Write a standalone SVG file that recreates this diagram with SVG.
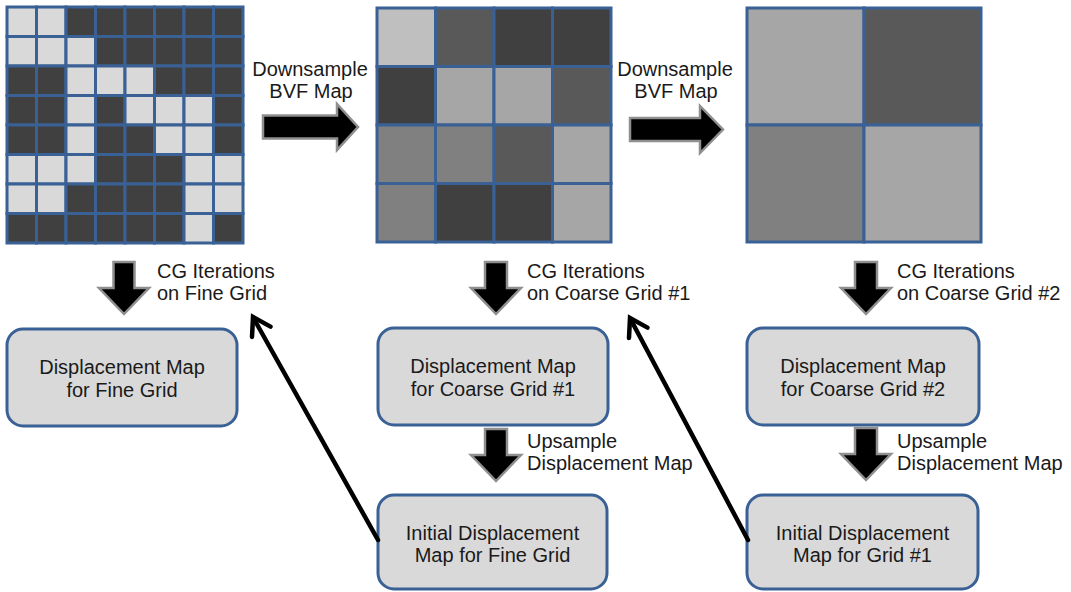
<svg xmlns="http://www.w3.org/2000/svg" width="1071" height="592" viewBox="0 0 1071 592">
<style>
.L{fill:#d9d9d9}.D{fill:#404040}
.g rect{stroke:#3a6195;stroke-width:3}
.c1{fill:#bfbfbf}.c2{fill:#a6a6a6}.c3{fill:#808080}.c4{fill:#595959}.c5{fill:#404040}
.box{fill:#d9d9d9;stroke:#3a6195;stroke-width:3}
.t{font-family:"Liberation Sans",Arial,sans-serif;font-size:20px;fill:#1a1a1a}
.m{text-anchor:middle}
.bar{fill:#000;stroke:#8f8f8f;stroke-width:2.5;stroke-linejoin:miter}
.ln{fill:none;stroke:#000;stroke-width:4.5;stroke-linecap:round;stroke-linejoin:miter}
</style>
<rect width="1071" height="592" fill="#fff"/>
<g id="fine-grid" class="g">
<rect x="7" y="7" width="29.5" height="29.5" class="L"/><rect x="36.5" y="7" width="29.5" height="29.5" class="L"/><rect x="66" y="7" width="29.5" height="29.5" class="D"/><rect x="95.5" y="7" width="29.5" height="29.5" class="D"/><rect x="125" y="7" width="29.5" height="29.5" class="D"/><rect x="154.5" y="7" width="29.5" height="29.5" class="D"/><rect x="184" y="7" width="29.5" height="29.5" class="D"/><rect x="213.5" y="7" width="29.5" height="29.5" class="D"/>
<rect x="7" y="36.5" width="29.5" height="29.5" class="L"/><rect x="36.5" y="36.5" width="29.5" height="29.5" class="L"/><rect x="66" y="36.5" width="29.5" height="29.5" class="L"/><rect x="95.5" y="36.5" width="29.5" height="29.5" class="D"/><rect x="125" y="36.5" width="29.5" height="29.5" class="D"/><rect x="154.5" y="36.5" width="29.5" height="29.5" class="D"/><rect x="184" y="36.5" width="29.5" height="29.5" class="D"/><rect x="213.5" y="36.5" width="29.5" height="29.5" class="D"/>
<rect x="7" y="66" width="29.5" height="29.5" class="D"/><rect x="36.5" y="66" width="29.5" height="29.5" class="D"/><rect x="66" y="66" width="29.5" height="29.5" class="L"/><rect x="95.5" y="66" width="29.5" height="29.5" class="L"/><rect x="125" y="66" width="29.5" height="29.5" class="L"/><rect x="154.5" y="66" width="29.5" height="29.5" class="D"/><rect x="184" y="66" width="29.5" height="29.5" class="D"/><rect x="213.5" y="66" width="29.5" height="29.5" class="D"/>
<rect x="7" y="95.5" width="29.5" height="29.5" class="D"/><rect x="36.5" y="95.5" width="29.5" height="29.5" class="D"/><rect x="66" y="95.5" width="29.5" height="29.5" class="L"/><rect x="95.5" y="95.5" width="29.5" height="29.5" class="D"/><rect x="125" y="95.5" width="29.5" height="29.5" class="L"/><rect x="154.5" y="95.5" width="29.5" height="29.5" class="L"/><rect x="184" y="95.5" width="29.5" height="29.5" class="L"/><rect x="213.5" y="95.5" width="29.5" height="29.5" class="D"/>
<rect x="7" y="125" width="29.5" height="29.5" class="D"/><rect x="36.5" y="125" width="29.5" height="29.5" class="D"/><rect x="66" y="125" width="29.5" height="29.5" class="L"/><rect x="95.5" y="125" width="29.5" height="29.5" class="D"/><rect x="125" y="125" width="29.5" height="29.5" class="D"/><rect x="154.5" y="125" width="29.5" height="29.5" class="L"/><rect x="184" y="125" width="29.5" height="29.5" class="L"/><rect x="213.5" y="125" width="29.5" height="29.5" class="D"/>
<rect x="7" y="154.5" width="29.5" height="29.5" class="L"/><rect x="36.5" y="154.5" width="29.5" height="29.5" class="L"/><rect x="66" y="154.5" width="29.5" height="29.5" class="L"/><rect x="95.5" y="154.5" width="29.5" height="29.5" class="D"/><rect x="125" y="154.5" width="29.5" height="29.5" class="D"/><rect x="154.5" y="154.5" width="29.5" height="29.5" class="D"/><rect x="184" y="154.5" width="29.5" height="29.5" class="L"/><rect x="213.5" y="154.5" width="29.5" height="29.5" class="L"/>
<rect x="7" y="184" width="29.5" height="29.5" class="L"/><rect x="36.5" y="184" width="29.5" height="29.5" class="L"/><rect x="66" y="184" width="29.5" height="29.5" class="D"/><rect x="95.5" y="184" width="29.5" height="29.5" class="D"/><rect x="125" y="184" width="29.5" height="29.5" class="D"/><rect x="154.5" y="184" width="29.5" height="29.5" class="D"/><rect x="184" y="184" width="29.5" height="29.5" class="L"/><rect x="213.5" y="184" width="29.5" height="29.5" class="L"/>
<rect x="7" y="213.5" width="29.5" height="29.5" class="D"/><rect x="36.5" y="213.5" width="29.5" height="29.5" class="D"/><rect x="66" y="213.5" width="29.5" height="29.5" class="D"/><rect x="95.5" y="213.5" width="29.5" height="29.5" class="D"/><rect x="125" y="213.5" width="29.5" height="29.5" class="D"/><rect x="154.5" y="213.5" width="29.5" height="29.5" class="D"/><rect x="184" y="213.5" width="29.5" height="29.5" class="L"/><rect x="213.5" y="213.5" width="29.5" height="29.5" class="D"/>
</g>
<g id="coarse-grid-1" class="g">
<rect x="377" y="8" width="58.5" height="58.5" class="c1"/><rect x="435.5" y="8" width="58.5" height="58.5" class="c4"/><rect x="494" y="8" width="58.5" height="58.5" class="c5"/><rect x="552.5" y="8" width="58.5" height="58.5" class="c5"/>
<rect x="377" y="66.5" width="58.5" height="58.5" class="c5"/><rect x="435.5" y="66.5" width="58.5" height="58.5" class="c2"/><rect x="494" y="66.5" width="58.5" height="58.5" class="c2"/><rect x="552.5" y="66.5" width="58.5" height="58.5" class="c4"/>
<rect x="377" y="125" width="58.5" height="58.5" class="c3"/><rect x="435.5" y="125" width="58.5" height="58.5" class="c3"/><rect x="494" y="125" width="58.5" height="58.5" class="c4"/><rect x="552.5" y="125" width="58.5" height="58.5" class="c2"/>
<rect x="377" y="183.5" width="58.5" height="58.5" class="c3"/><rect x="435.5" y="183.5" width="58.5" height="58.5" class="c5"/><rect x="494" y="183.5" width="58.5" height="58.5" class="c5"/><rect x="552.5" y="183.5" width="58.5" height="58.5" class="c2"/>
</g>
<g id="coarse-grid-2" class="g">
<rect x="747" y="8" width="117" height="117" class="c2"/><rect x="864" y="8" width="117" height="117" class="c4"/>
<rect x="747" y="125" width="117" height="117" class="c3"/><rect x="864" y="125" width="117" height="117" class="c2"/>
</g>
<g id="box-fine">
<rect x="7" y="329" width="230" height="97" rx="16" class="box"/>
<text class="t m" x="122" y="374">Displacement Map</text>
<text class="t m" x="122" y="397">for Fine Grid</text>
</g>
<g id="box-coarse1">
<rect x="378" y="328" width="230" height="97" rx="16" class="box"/>
<text class="t m" x="493" y="373">Displacement Map</text>
<text class="t m" x="493" y="396">for Coarse Grid #1</text>
</g>
<g id="box-coarse2">
<rect x="747" y="328" width="232" height="97" rx="16" class="box"/>
<text class="t m" x="863" y="373">Displacement Map</text>
<text class="t m" x="863" y="396">for Coarse Grid #2</text>
</g>
<g id="box-init-fine">
<rect x="378" y="495" width="229" height="94" rx="16" class="box"/>
<text class="t m" x="492.5" y="540">Initial Displacement</text>
<text class="t m" x="492.5" y="562">Map for Fine Grid</text>
</g>
<g id="box-init-grid1">
<rect x="747" y="495" width="231" height="94" rx="16" class="box"/>
<text class="t m" x="862.5" y="540">Initial Displacement</text>
<text class="t m" x="862.5" y="562">Map for Grid #1</text>
</g>
<g id="connectors">
<polygon class="bar" points="263,115.5 337,115.5 337,104 358,127 337,150 337,138.5 263,138.5"/>
<polygon class="bar" points="630,118 700,118 700,106 723,129.5 700,153 700,141 630,141"/>
<polygon class="bar" points="113.5,262 134.5,262 134.5,288 149,288 124,314 99,288 113.5,288"/>
<polygon class="bar" points="485,262 507,262 507,288 521,288 496,314 471,288 485,288"/>
<polygon class="bar" points="855,262 877,262 877,288 891,288 866,314 841,288 855,288"/>
<polygon class="bar" points="485,429 507,429 507,455 521,455 496,481 471,455 485,455"/>
<polygon class="bar" points="855,428 877,428 877,454 891,454 866,480 841,454 855,454"/>
<line class="ln" x1="378" y1="540" x2="254" y2="319"/>
<polyline class="ln" points="252,337 253,317 270.5,326.6"/>
<line class="ln" x1="748" y1="540" x2="631" y2="320"/>
<polyline class="ln" points="629,338 630,318 647.5,327.6"/>
<text class="t m" x="310" y="76">Downsample</text>
<text class="t m" x="311" y="98">BVF Map</text>
<text class="t m" x="675" y="76">Downsample</text>
<text class="t m" x="676" y="98">BVF Map</text>
<text class="t" x="157" y="278">CG Iterations</text>
<text class="t" x="157" y="300">on Fine Grid</text>
<text class="t" x="527" y="278">CG Iterations</text>
<text class="t" x="527" y="300">on Coarse Grid #1</text>
<text class="t" x="897" y="278">CG Iterations</text>
<text class="t" x="897" y="300">on Coarse Grid #2</text>
<text class="t" x="527" y="448">Upsample</text>
<text class="t" x="527" y="470">Displacement Map</text>
<text class="t" x="897" y="448">Upsample</text>
<text class="t" x="897" y="470">Displacement Map</text>
</g>
</svg>
